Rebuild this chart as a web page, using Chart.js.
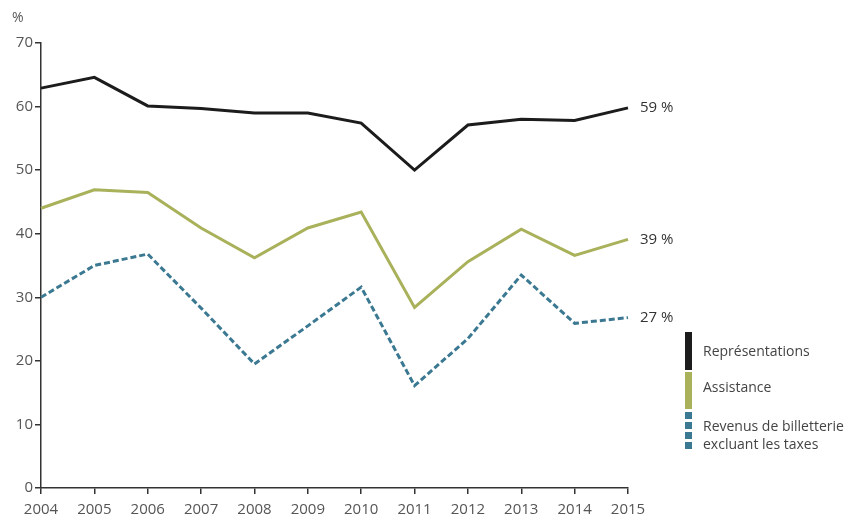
<!DOCTYPE html>
<html>
<head>
<meta charset="utf-8">
<script src="https://cdn.jsdelivr.net/npm/chart.js@4.4.1/dist/chart.umd.min.js"></script>
<style>
  html, body { margin: 0; padding: 0; background: #fff; }
  #wrap { position: relative; width: 857px; height: 521px; }
</style>
</head>
<body>
<div id="wrap"><canvas id="chart"></canvas></div>
<script>
const years = ['2004', '2005', '2006', '2007', '2008', '2009', '2010', '2011', '2012', '2013', '2014', '2015'];
const representations = [62.9, 64.6, 60.1, 59.7, 59.0, 59.0, 57.4, 50.0, 57.1, 58.0, 57.8, 59.8];
const assistance = [44.0, 46.9, 46.5, 40.9, 36.2, 40.9, 43.4, 28.4, 35.6, 40.7, 36.6, 39.1];
const revenus = [30.0, 35.0, 36.8, 28.3, 19.5, 25.5, 31.6, 16.1, 23.5, 33.5, 25.9, 26.8];
const endLabels = ['59 %', '39 %', '27 %'];
const legendLabels = [['Représentations'], ['Assistance'], ['Revenus de billetterie', 'excluant les taxes']];

const FONT = '"Liberation Sans Narrow", "Open Sans", sans-serif';
const colors = ['#1c1c1c', '#a9b15b', '#3b7891'];

// labels at the end of each line + legend on the right
const extras = {
  id: 'extras',
  afterDatasetsDraw(chart) {
    const ctx = chart.ctx;
    ctx.save();
    ctx.font = '15px ' + FONT;
    ctx.fillStyle = '#333';
    ctx.textBaseline = 'middle';
    ctx.textAlign = 'left';
    chart.data.datasets.forEach((ds, i) => {
      const meta = chart.getDatasetMeta(i);
      const last = meta.data[meta.data.length - 1];
      ctx.fillText(endLabels[i], last.x + 12, last.y);
    });

    // "%" unit above the y axis
    ctx.fillStyle = '#555';
    ctx.font = '14px ' + FONT;
    ctx.fillText('%', 12, 18);

    // legend
    const bx = 685, bw = 7;
    const blocks = [[332, 370], [372, 409], [412, 452]];
    blocks.forEach((b, i) => {
      ctx.fillStyle = colors[i];
      if (i < 2) {
        ctx.fillRect(bx, b[0], bw, b[1] - b[0]);
      } else {
        for (let y = b[0]; y < b[1]; y += 10) {
          ctx.fillRect(bx, y, bw, Math.min(7, b[1] - y));
        }
      }
    });
    ctx.fillStyle = '#444';
    ctx.font = '14px ' + FONT;
    ctx.fillText(legendLabels[0][0], 703, 352);
    ctx.fillText(legendLabels[1][0], 703, 388);
    ctx.fillText(legendLabels[2][0], 703, 427);
    ctx.fillText(legendLabels[2][1], 703, 445);
    ctx.restore();
  }
};

new Chart(document.getElementById('chart'), {
  type: 'line',
  data: {
    labels: years,
    datasets: [
      { label: 'Représentations', data: representations, borderColor: colors[0], borderWidth: 3 },
      { label: 'Assistance', data: assistance, borderColor: colors[1], borderWidth: 3 },
      { label: 'Revenus de billetterie excluant les taxes', data: revenus, borderColor: colors[2], borderWidth: 3, borderDash: [6, 3] },
    ],
  },
  options: {
    responsive: true,
    maintainAspectRatio: false,
    animation: false,
    layout: { padding: { top: 43, right: 229, left: 0, bottom: 0 } },
    elements: { point: { radius: 0 }, line: { tension: 0, borderJoinStyle: 'miter' } },
    plugins: { legend: { display: false }, tooltip: { enabled: false } },
    scales: {
      x: {
        offset: false,
        afterFit: (s) => { s.height = 33; },
        border: { display: true, color: '#333', width: 1.5 },
        grid: { display: true, drawOnChartArea: false, drawTicks: true, tickLength: 6, color: '#333', lineWidth: 1.5 },
        ticks: { color: '#555', font: { family: FONT, size: 15 }, padding: 7, maxRotation: 0, autoSkip: false },
      },
      y: {
        min: 0,
        max: 70,
        afterFit: (s) => { s.width = 41; },
        border: { display: true, color: '#333', width: 1.5 },
        grid: { display: true, drawOnChartArea: false, drawTicks: true, tickLength: 6, color: '#333', lineWidth: 1.5 },
        ticks: { stepSize: 10, color: '#555', font: { family: FONT, size: 15 }, padding: 2 },
      },
    },
  },
  plugins: [extras],
});
</script>
</body>
</html>
